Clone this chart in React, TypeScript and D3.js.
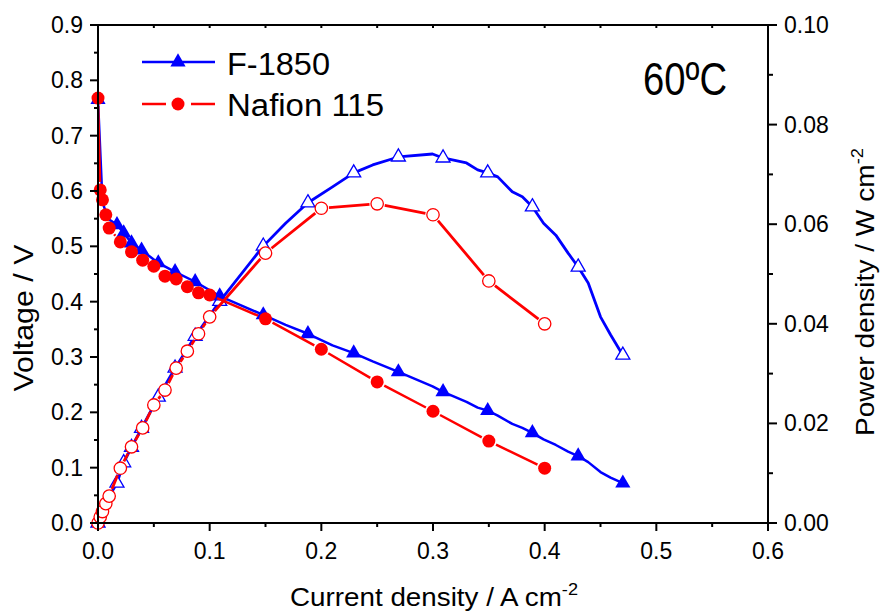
import React from 'react';
import * as d3 from 'd3';

// ---- Data ----
const nafionCurrent = [0, 0.002, 0.004, 0.007, 0.01, 0.02, 0.03, 0.04, 0.05, 0.06, 0.07, 0.08, 0.09, 0.1, 0.15, 0.2, 0.25, 0.3, 0.35, 0.4];
const nafionVoltage = [0.768, 0.602, 0.584, 0.557, 0.533, 0.508, 0.49, 0.475, 0.464, 0.446, 0.441, 0.427, 0.416, 0.412, 0.369, 0.314, 0.255, 0.202, 0.148, 0.099];
const nafionPower = [0.0, 0.0012, 0.0023, 0.0039, 0.0054, 0.011, 0.0153, 0.0191, 0.0237, 0.0267, 0.0311, 0.0345, 0.038, 0.0414, 0.0542, 0.0632, 0.0641, 0.0619, 0.0486, 0.04];

const f1850Current = [0, 0.004, 0.009, 0.017, 0.023, 0.03, 0.039, 0.054, 0.069, 0.087, 0.109, 0.148, 0.168, 0.188, 0.21, 0.229, 0.246, 0.269, 0.2996, 0.309, 0.33, 0.34, 0.349, 0.358, 0.371, 0.38, 0.389, 0.399, 0.41, 0.421, 0.43, 0.439, 0.45, 0.459, 0.47];
const f1850Voltage = [0.765, 0.58, 0.55, 0.539, 0.524, 0.506, 0.493, 0.47, 0.454, 0.436, 0.41, 0.376, 0.358, 0.342, 0.321, 0.307, 0.292, 0.273, 0.247, 0.237, 0.219, 0.2085, 0.203, 0.194, 0.179, 0.172, 0.163, 0.151, 0.141, 0.129, 0.121, 0.11, 0.092, 0.082, 0.072];
const f1850Power = [0, 0.0023, 0.005, 0.008, 0.0121, 0.0152, 0.019, 0.0253, 0.0311, 0.0375, 0.0445, 0.0556, 0.0602, 0.0643, 0.0675, 0.0703, 0.0719, 0.0735, 0.0741, 0.0733, 0.0723, 0.0709, 0.0703, 0.0695, 0.0665, 0.0655, 0.0635, 0.0602, 0.0578, 0.0542, 0.0514, 0.0482, 0.0414, 0.0378, 0.0337];
const f1850MarkerCurrents = [0, 0.017, 0.023, 0.03, 0.039, 0.054, 0.069, 0.087, 0.109, 0.148, 0.188, 0.229, 0.269, 0.309, 0.349, 0.389, 0.43, 0.47];

const xTicks = [0, 0.1, 0.2, 0.3, 0.4, 0.5, 0.6];
const xMinorTicks = [0.05, 0.15, 0.25, 0.35, 0.45, 0.55];
const leftTicks = [0, 0.1, 0.2, 0.3, 0.4, 0.5, 0.6, 0.7, 0.8, 0.9];
const leftMinorTicks = [0.05, 0.15, 0.25, 0.35, 0.45, 0.55, 0.65, 0.75, 0.85];
const rightTicks = [0, 0.02, 0.04, 0.06, 0.08, 0.1];
const rightMinorTicks = [0.01, 0.03, 0.05, 0.07, 0.09];

const seriesNames = ['F-1850', 'Nafion 115'];
const tempLabel = '60ºC';

const W = 882;
const H = 612;
const M = { left: 98, right: 768, top: 25, bottom: 523 };
const BLUE = '#0000FF';
const RED = '#FF0000';
const FONT = '"Liberation Sans", Arial, sans-serif';

type P = [number, number];

function gappedSegments(pts: P[], gap: number): string {
  let d = '';
  for (let i = 0; i < pts.length - 1; i++) {
    const [x1, y1] = pts[i];
    const [x2, y2] = pts[i + 1];
    const dx = x2 - x1;
    const dy = y2 - y1;
    const len = Math.hypot(dx, dy);
    if (len <= 2 * gap + 1) continue;
    const ux = dx / len;
    const uy = dy / len;
    d += `M${x1 + ux * gap},${y1 + uy * gap}L${x2 - ux * gap},${y2 - uy * gap}`;
  }
  return d;
}

export default function App() {
  const x = d3.scaleLinear().domain([0, 0.6]).range([M.left, M.right]);
  const yL = d3.scaleLinear().domain([0, 0.9]).range([M.bottom, M.top]);
  const yR = d3.scaleLinear().domain([0, 0.1]).range([M.bottom, M.top]);
  const line = d3.line<P>().x((d) => d[0]).y((d) => d[1]);

  const fPol: P[] = f1850Current.map((c, i) => [x(c), yL(f1850Voltage[i])]);
  const fPow: P[] = f1850Current.map((c, i) => [x(c), yR(f1850Power[i])]);
  const nPol: P[] = nafionCurrent.map((c, i) => [x(c), yL(nafionVoltage[i])]);
  const nPow: P[] = nafionCurrent.map((c, i) => [x(c), yR(nafionPower[i])]);
  const marked = (i: number) => f1850MarkerCurrents.includes(f1850Current[i]);

  const triFilled = d3.symbol(d3.symbolTriangle, 100)()!;
  const triOpen = d3.symbol(d3.symbolTriangle, 85)()!;

  const rFill = 6.5;
  const rOpen = 6.2;

  const fmt1 = d3.format('.1f');
  const fmt2 = d3.format('.2f');

  return (
    <svg width={W} height={H} style={{ position: 'absolute', left: 0, top: 0, background: '#fff' }} fontFamily={FONT}>
      <rect x={0} y={0} width={W} height={H} fill="#fff" />

      {/* F-1850 power */}
      <path d={line(fPow)!} fill="none" stroke={BLUE} strokeWidth={2.8} strokeLinejoin="round" />
      {fPow.map((p, i) => marked(i) ? (
        <path key={'fp' + i} d={triOpen} transform={`translate(${p[0]},${p[1]})`} fill="#fff" stroke={BLUE} strokeWidth={1.3} />
      ) : null)}

      {/* F-1850 polarization */}
      <path d={line(fPol)!} fill="none" stroke={BLUE} strokeWidth={2.5} strokeLinejoin="round" />
      {fPol.map((p, i) => marked(i) ? (
        <path key={'fv' + i} d={triFilled} transform={`translate(${p[0]},${p[1]})`} fill={BLUE} />
      ) : null)}

      {/* Nafion power */}
      <path d={gappedSegments(nPow, rOpen + 1.5)} fill="none" stroke={RED} strokeWidth={2.8} />
      {nPow.map((p, i) => (
        <circle key={'np' + i} cx={p[0]} cy={p[1]} r={rOpen} fill="#fff" stroke={RED} strokeWidth={1.3} />
      ))}

      {/* Nafion polarization */}
      <path d={gappedSegments(nPol, rFill + 1.5)} fill="none" stroke={RED} strokeWidth={2.5} />
      {nPol.map((p, i) => (
        <circle key={'nv' + i} cx={p[0]} cy={p[1]} r={rFill} fill={RED} />
      ))}

      {/* Axes frame */}
      <g stroke="#000" strokeWidth={2} fill="none">
        <line x1={M.left} y1={M.bottom} x2={M.right} y2={M.bottom} />
        <line x1={M.left} y1={M.top} x2={M.right} y2={M.top} />
        <line x1={M.left} y1={M.top} x2={M.left} y2={M.bottom} />
        <line x1={M.right} y1={M.top} x2={M.right} y2={M.bottom} />
        {xTicks.map((t) => <line key={'xt' + t} x1={x(t)} x2={x(t)} y1={M.bottom} y2={M.bottom + 8} />)}
        {xMinorTicks.map((t) => <line key={'xm' + t} x1={x(t)} x2={x(t)} y1={M.bottom} y2={M.bottom + 4} />)}
        {xTicks.map((t) => <line key={'xtt' + t} x1={x(t)} x2={x(t)} y1={M.top} y2={M.top + 3} />)}
        {xMinorTicks.map((t) => <line key={'xmt' + t} x1={x(t)} x2={x(t)} y1={M.top} y2={M.top + 3} />)}
        {leftTicks.map((t) => <line key={'lt' + t} x1={M.left - 8} x2={M.left} y1={yL(t)} y2={yL(t)} />)}
        {leftMinorTicks.map((t) => <line key={'lm' + t} x1={M.left - 4} x2={M.left} y1={yL(t)} y2={yL(t)} />)}
        {rightTicks.map((t) => <line key={'rt' + t} x1={M.right} x2={M.right + 9} y1={yR(t)} y2={yR(t)} />)}
        {rightMinorTicks.map((t) => <line key={'rm' + t} x1={M.right} x2={M.right + 5} y1={yR(t)} y2={yR(t)} />)}
      </g>

      {/* Tick labels */}
      <g fontSize={23} fill="#000">
        {xTicks.map((t) => (
          <text key={'xl' + t} x={x(t)} y={M.bottom + 36} textAnchor="middle">{fmt1(t)}</text>
        ))}
        {leftTicks.map((t) => (
          <text key={'ll' + t} x={M.left - 15} y={yL(t) + 8} textAnchor="end">{fmt1(t)}</text>
        ))}
        {rightTicks.map((t) => (
          <text key={'rl' + t} x={M.right + 16} y={yR(t) + 8} textAnchor="start">{fmt2(t)}</text>
        ))}
      </g>

      {/* Axis titles */}
      <text x={290} y={606} fontSize={26} fill="#000" textLength={288} lengthAdjust="spacingAndGlyphs">
        Current density / A cm<tspan dy={-11} fontSize={17}>-2</tspan>
      </text>
      <text transform={`translate(33,318) rotate(-90)`} textAnchor="middle" fontSize={28} fill="#000" textLength={147} lengthAdjust="spacingAndGlyphs">Voltage / V</text>
      <text transform={`translate(874,436) rotate(-90)`} fontSize={26} fill="#000" textLength={288} lengthAdjust="spacingAndGlyphs">
        Power density / W cm<tspan dy={-11} fontSize={17}>-2</tspan>
      </text>

      {/* Legend */}
      <line x1={142} x2={215} y1={62} y2={62} stroke={BLUE} strokeWidth={2.5} />
      <path d={triFilled} transform="translate(178,62)" fill={BLUE} />
      <text x={227} y={75} fontSize={31} fill="#000" textLength={103} lengthAdjust="spacingAndGlyphs">{seriesNames[0]}</text>
      <line x1={142} x2={166} y1={104} y2={104} stroke={RED} strokeWidth={2.5} />
      <line x1={191} x2={215} y1={104} y2={104} stroke={RED} strokeWidth={2.5} />
      <circle cx={178} cy={104} r={rFill} fill={RED} />
      <text x={227} y={116} fontSize={31} fill="#000" textLength={157} lengthAdjust="spacingAndGlyphs">{seriesNames[1]}</text>

      {/* Temperature label */}
      <text x={643} y={95} fontSize={46} fill="#000" textLength={84} lengthAdjust="spacingAndGlyphs">{tempLabel}</text>
    </svg>
  );
}
